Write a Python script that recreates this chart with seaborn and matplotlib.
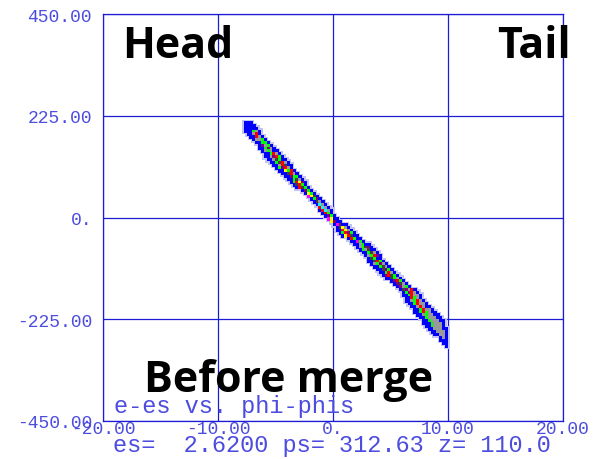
import matplotlib
matplotlib.use("Agg")
import matplotlib.pyplot as plt
import pandas as pd
import seaborn as sns

# 2-D histogram of (phi - phis, e - es).
# Each row is one e-bin: the first occupied phi-bin and the level code of
# every consecutive occupied cell from there on.
e_bins = [105, 104, 103, 102, 101, 100, 99, 98, 97, 96, 95, 94, 93, 92, 91, 90,
          89, 88, 87, 86, 85, 84, 83, 82, 81, 80, 79, 78, 77, 76, 75, 74, 73,
          72, 71, 70, 69, 68, 67, 66, 65, 64, 63, 62, 61, 60, 59, 58, 57, 56,
          55, 54, 53, 52, 51, 50, 49, 48, 47, 46, 45, 44, 43, 42, 41, 40, 39,
          38, 37, 36, 35, 34, 33, 32, 31, 30, 29, 28, 27, 26]
phi_first_bin = [49, 49, 49, 49, 50, 51, 52, 53, 54, 54, 55, 56, 56, 57, 58, 59,
                 60, 61, 62, 63, 64, 65, 66, 67, 69, 70, 71, 72, 73, 74, 75, 75,
                 76, 77, 78, 79, 80, 81, 81, 82, 83, 85, 86, 87, 88, 89, 90, 91,
                 92, 92, 93, 94, 95, 96, 97, 98, 100, 101, 102, 103, 104, 104,
                 105, 105, 106, 107, 108, 108, 109, 110, 111, 111, 112, 113, 114,
                 115, 117, 117, 118, 119]
cell_levels = ["bbb", "bbbb", "bbbbb", "bbbgab", "bbarb", "bbrab", "baagb",
               "bbggb", "bpagb", "bbgpab", "bagabb", "bbgrab", "bbaprgb",
               "bbadgbb", "bbgdrab", "bbardbb", "bgprab", "bbygrb", "bbdrab",
               "bbpggb", "bbgdab", "bgrypb", "bdrgb", "brdgb", "bpgb", "bygb",
               "mydb", "bgpb", "bdab", "bcab", "rcab", "brcab", "brgb", "bpgb",
               "mybb", "ypbb", "bmdbb", "bdyab", "bbryab", "bgrpgb", "byrdbb",
               "brgbb", "bbmgb", "bbagbb", "bagdpb", "bgadbb", "bbgdab",
               "bagrpb", "bdgbb", "bbdrgb", "bagpab", "bbgdab", "bbdpgb",
               "bbgrab", "bprdgb", "bbdgab", "bprgb", "bpdab", "bpagb",
               "bdparb", "bgprab", "bbgraab", "bbrgab", "bbagrab", "bbgraab",
               "bbarabb", "bbgraab", "bbgrgabb", "bbagaabb", "bbgaaabb",
               "bbgaaabb", "bbbgaaab", "bbgaaab", "bbaaabb", "bbaaab", "bbaab",
               "bab", "bbb", "bb", "b"]

# histogram binning
phi_lo, phi_width = -20.0, 0.25
e_lo, e_width = -450.0, 6.25

x_ticks = [-20, -10, 0, 10, 20]
x_tick_labels = ["-20.00", "-10.00", "0.", "10.00", "20.00"]
y_ticks = [-450, -225, 0, 225, 450]
y_tick_labels = ["-450.00", "-225.00", "0.", "225.00", "450.00"]

level_colors = {
    "b": "#0000ff", "a": "#999999", "g": "#00ff00", "r": "#ff0000",
    "p": "#800080", "d": "#404040", "y": "#ffff00", "m": "#ff00ff",
    "c": "#00ffff",
}

records = []
for eb, pb, codes in zip(e_bins, phi_first_bin, cell_levels):
    for k, code in enumerate(codes):
        records.append({
            "phi": phi_lo + phi_width * (pb + k + 0.5),
            "e": e_lo + e_width * (eb + 0.5),
            "level": code,
        })
cells = pd.DataFrame(records)

sns.set_style("white")
W, H = 598, 460
fig = plt.figure(figsize=(W / 100, H / 100), dpi=100)
ax = fig.add_axes([103 / W, 1 - 422 / H, 460 / W, 407 / H])

line_blue = "#1c1cd6"
text_blue = "#4c4ce0"

# soft fringe around the occupied cells
sns.scatterplot(data=cells, x="phi", y="e", color="#c4c4f4",
                marker="s", s=13, linewidth=0, legend=False, ax=ax, zorder=2)
sns.scatterplot(data=cells, x="phi", y="e", hue="level", palette=level_colors,
                marker="s", s=5.6, linewidth=0, legend=False, ax=ax, zorder=3)

ax.set_xlim(-20, 20)
ax.set_ylim(-450, 450)
ax.set_xticks(x_ticks)
ax.set_xticklabels(x_tick_labels)
ax.set_yticks(y_ticks)
ax.set_yticklabels(y_tick_labels)
ax.set_xlabel("")
ax.set_ylabel("")
ax.grid(True, color=line_blue, linewidth=0.9)
ax.set_axisbelow(True)
for sp in ax.spines.values():
    sp.set_color(line_blue)
    sp.set_linewidth(0.9)
ax.tick_params(axis="both", length=0, colors=text_blue)
ax.tick_params(axis="y", pad=8)
ax.tick_params(axis="x", pad=-1)
for lbl in ax.get_xticklabels() + ax.get_yticklabels():
    lbl.set_fontfamily("Liberation Mono")
    lbl.set_fontsize(13)

big = dict(family="Open Sans", weight="bold", size=31, color="black",
           va="baseline", ha="left", zorder=5)
fig.text(122 / W, 1 - 58 / H, "Head", **big)
fig.text(497 / W, 1 - 58 / H, "Tail", **big)
fig.text(144 / W, 1 - 392 / H, "Before merge", **big)

mono = dict(family="Liberation Mono", size=17, color=text_blue,
            va="baseline", ha="left")
fig.text(114 / W, 1 - 413 / H, "e-es vs. phi-phis", **mono)
fig.text(113 / W, 1 - 452 / H, "es=  2.6200 ps= 312.63 z= 110.0", **mono)

fig.savefig("out.png", dpi=100)
